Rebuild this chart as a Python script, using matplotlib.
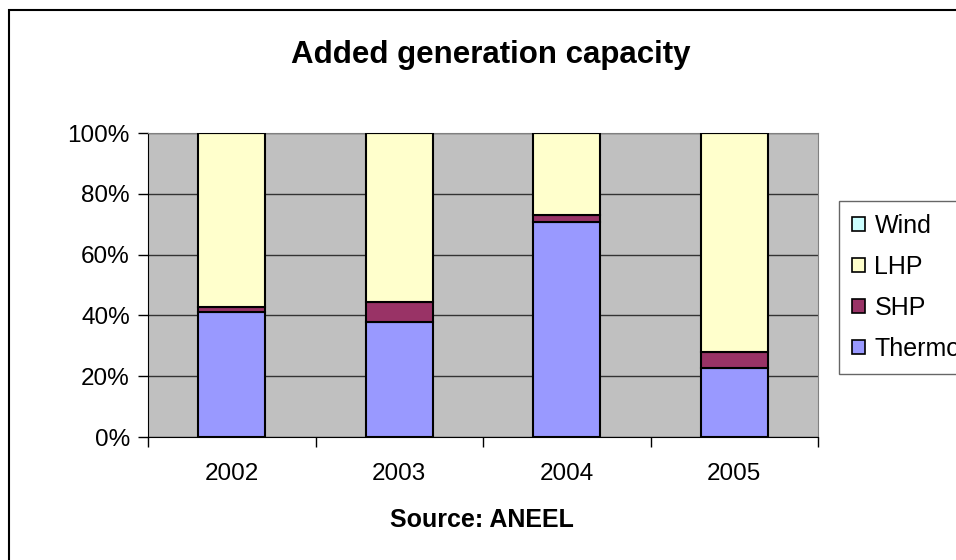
import numpy as np
import matplotlib
matplotlib.use("Agg")
import matplotlib.pyplot as plt
from matplotlib.patches import Rectangle, Patch
from matplotlib.ticker import PercentFormatter

plt.rcParams['font.family'] = ['Liberation Sans', 'DejaVu Sans']

# data (shares of added capacity)
years = ['2002', '2003', '2004', '2005']
thermo = [41.2, 37.9, 70.7, 22.7]
shp = [1.4, 6.6, 2.2, 5.4]
wind = [0.0, 0.0, 0.0, 0.0]
lhp = [100 - t - s - w for t, s, w in zip(thermo, shp, wind)]

colors = {'Thermo': '#9999FF', 'SHP': '#993366', 'LHP': '#FFFFCC', 'Wind': '#CCFFFF'}

fig = plt.figure(figsize=(9.56, 5.6), dpi=100)
ax = fig.add_axes([148 / 956, 1 - 437 / 560, 670 / 956, 304 / 560])
ax.set_facecolor('#C0C0C0')

x = np.arange(len(years))
w = 0.4
bottom = np.zeros(len(years))
for name, vals in [('Thermo', thermo), ('SHP', shp), ('LHP', lhp), ('Wind', wind)]:
    ax.bar(x, vals, w, bottom=bottom, color=colors[name], edgecolor='black',
           linewidth=1.5, zorder=3)
    bottom += np.array(vals)

ax.set_xlim(-0.5, len(years) - 0.5)
ax.set_ylim(0, 100)
ax.set_yticks(np.arange(0, 101, 20))
ax.yaxis.set_major_formatter(PercentFormatter(decimals=0))
ax.yaxis.grid(True, color='#333333', linewidth=1, zorder=1)
ax.set_axisbelow(True)

# category ticks sit between the bars
ax.set_xticks(np.arange(len(years) + 1) - 0.5)
ax.set_xticklabels([])
ax.set_xticks(x, minor=True)
ax.set_xticklabels(years, minor=True, fontsize=17.5)
ax.tick_params(axis='x', which='minor', length=0, pad=19)
ax.tick_params(axis='x', which='major', length=7, direction='out', width=1)
ax.tick_params(axis='y', length=7, direction='out', width=1, labelsize=17.5, pad=6)

for s in ['top', 'right']:
    ax.spines[s].set_color('#808080')
for s in ['left', 'bottom']:
    ax.spines[s].set_color('black')

fig.text(491 / 956, 1 - 55 / 560, 'Added generation capacity', ha='center', va='center',
         fontsize=22.5, fontweight='bold')
fig.text(482 / 956, 1 - 520 / 560, 'Source: ANEEL', ha='center', va='center',
         fontsize=18, fontweight='bold')

handles = [Patch(facecolor=colors[n], edgecolor='black', linewidth=1.2, label=n)
           for n in ['Wind', 'LHP', 'SHP', 'Thermo']]
leg = fig.legend(handles=handles, loc='upper left', bbox_to_anchor=(839 / 956, 1 - 201 / 560),
                 fontsize=18, frameon=True, fancybox=False, edgecolor='#404040',
                 handlelength=0.5, handleheight=0.5, handletextpad=0.4,
                 labelspacing=0.68, borderpad=0.52, borderaxespad=0)
leg.get_frame().set_linewidth(1)

# chart border
fig.add_artist(Rectangle((9 / 956, -0.1), 2, 1 - 10 / 560 + 0.1, transform=fig.transFigure,
                         fill=False, edgecolor='black', linewidth=1.5, clip_on=False))

fig.savefig('out.png', dpi=100)
